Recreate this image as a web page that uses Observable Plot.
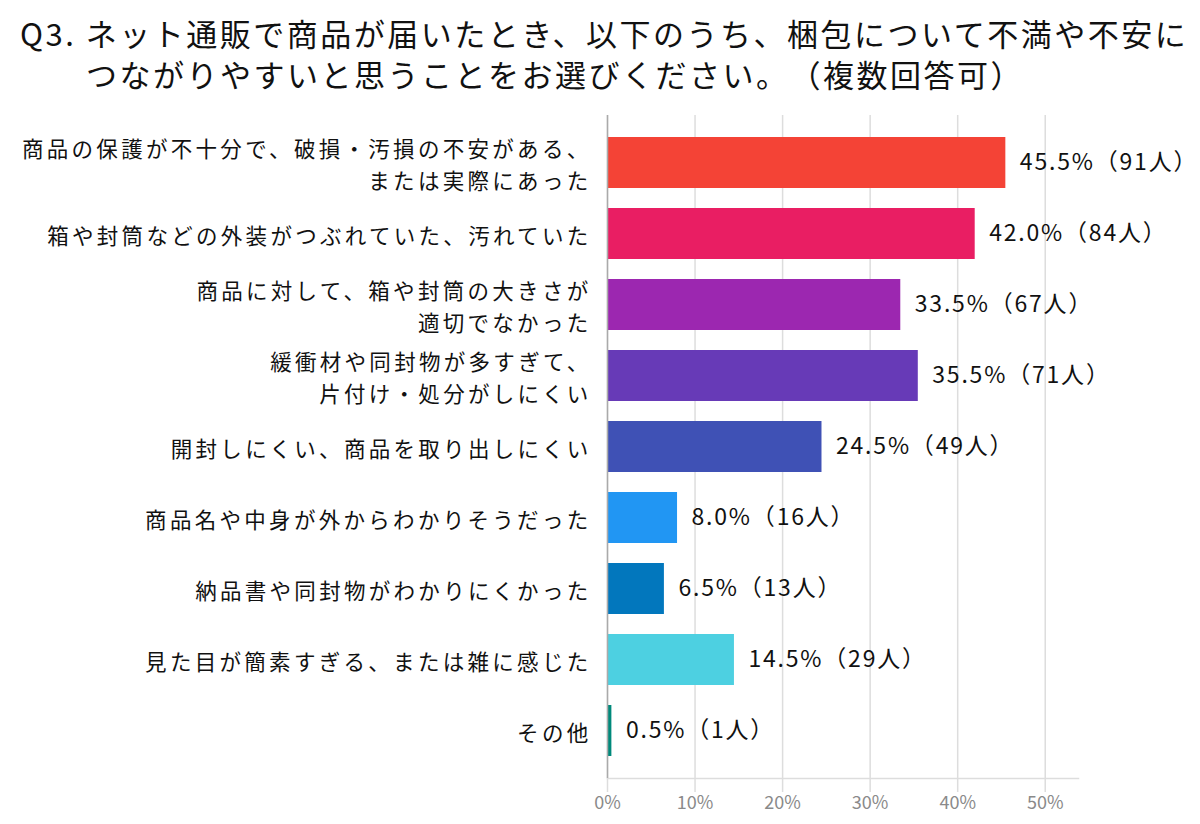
<!DOCTYPE html>
<html><head><meta charset="utf-8">
<script src="https://cdn.jsdelivr.net/npm/d3@7"></script>
<script src="https://cdn.jsdelivr.net/npm/@observablehq/plot@0.6"></script>
<style>
body{margin:0;background:#fff;font-family:"Noto Sans CJK JP",sans-serif;text-spacing-trim:space-all;}
#title{height:100px;box-sizing:border-box;padding-top:12px;font-size:31px;line-height:41px;color:#111;white-space:nowrap;letter-spacing:2.5px;text-spacing-trim:space-all;}
#title .l1{padding-left:20px;}
#title .l2{padding-left:86px;}
svg{text-spacing-trim:space-all;}
g[aria-label="y-axis tick label"] text{letter-spacing:3.3px;}
g[aria-label="text"] text{letter-spacing:1.8px;}
</style></head>
<body>
<div id="title"><div class="l1">Q3. ネット通販で商品が届いたとき、以下のうち、梱包について不満や不安に</div><div class="l2">つながりやすいと思うことをお選びください。（複数回答可）</div></div>
<div id="chart"></div>
<script>
const categories = [
  "商品の保護が不十分で、破損・汚損の不安がある、\nまたは実際にあった",
  "箱や封筒などの外装がつぶれていた、汚れていた",
  "商品に対して、箱や封筒の大きさが\n適切でなかった",
  "緩衝材や同封物が多すぎて、\n片付け・処分がしにくい",
  "開封しにくい、商品を取り出しにくい",
  "商品名や中身が外からわかりそうだった",
  "納品書や同封物がわかりにくかった",
  "見た目が簡素すぎる、または雑に感じた",
  "その他"
];
const percents = [45.5, 42.0, 33.5, 35.5, 24.5, 8.0, 6.5, 14.5, 0.5];
const counts = [91, 84, 67, 71, 49, 16, 13, 29, 1];
const barColors = ["#F44336", "#E91E63", "#9C27B0", "#673AB7", "#3F51B5", "#2196F3", "#0277BD", "#4DD0E1", "#00897B"];
const xTicks = [0, 10, 20, 30, 40, 50];

const data = categories.map((c, i) => ({cat: c, pct: percents[i], n: counts[i]}));

const chart = Plot.plot({
  width: 1200,
  height: 724,
  marginLeft: 607,
  marginRight: 122,
  marginTop: 15,
  marginBottom: 46,
  style: {fontFamily: '"Noto Sans CJK JP", sans-serif', background: "#fff", overflow: "visible"},
  x: {domain: [0, 53.8], ticks: xTicks},
  y: {domain: categories, padding: 0.28},
  color: {domain: categories, range: barColors},
  marks: [
    Plot.gridX(xTicks, {stroke: "#dddddd", strokeOpacity: 1, strokeWidth: 1.5}),
    Plot.axisX(xTicks, {tickFormat: d => d + "%", tickSize: 14, tickPadding: 4, stroke: "#dddddd", strokeWidth: 1.5, fontSize: 18, fill: "#8a8a8a", label: null}),
    Plot.frame({anchor: "bottom", stroke: "#dddddd", strokeWidth: 1.5}),
    Plot.barX(data, {x: "pct", y: "cat", fill: "cat"}),
    Plot.ruleX([0], {stroke: "#aaaaaa", strokeWidth: 1.5}),
    Plot.axisY({tickSize: 0, tickPadding: 16, fontSize: 21.5, fill: "#111", lineHeight: 1.45, label: null}),
    Plot.text(data, {x: "pct", y: "cat", text: d => `${d.pct.toFixed(1)}%（${d.n}人）`, textAnchor: "start", dx: 14, fontSize: 23, fill: "#111"})
  ]
});
document.getElementById("chart").appendChild(chart);
</script>
</body></html>
